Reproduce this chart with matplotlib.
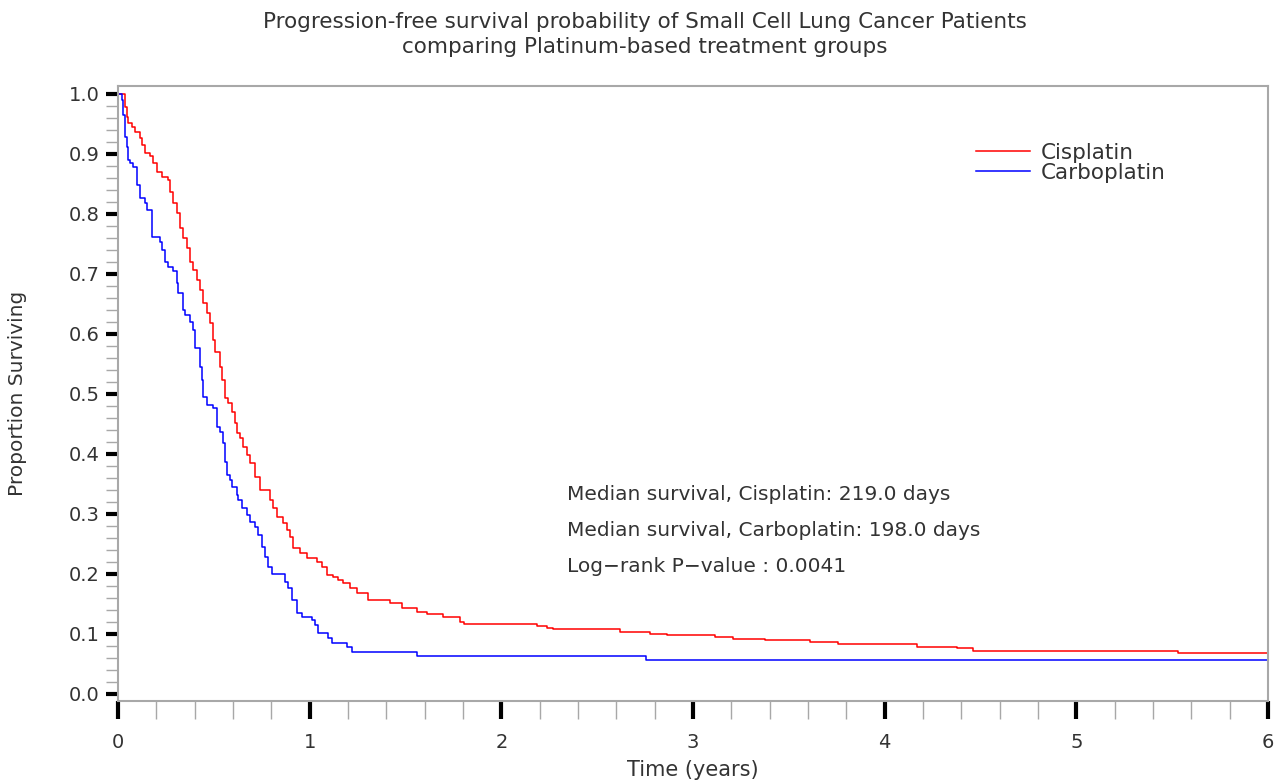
import numpy as np
import matplotlib.pyplot as plt
from matplotlib.ticker import MultipleLocator

# Kaplan-Meier step points (time in years, survival after step)
cis_t = [0, 0.037, 0.047, 0.052, 0.073, 0.089, 0.115, 0.125, 0.141, 0.167, 0.183, 0.203,
         0.230, 0.261, 0.271, 0.287, 0.308, 0.323, 0.339, 0.360, 0.376, 0.391, 0.412,
         0.428, 0.443, 0.464, 0.480, 0.496, 0.506, 0.532, 0.543, 0.558, 0.574, 0.595,
         0.610, 0.621, 0.637, 0.652, 0.673, 0.689, 0.715, 0.741, 0.793, 0.809, 0.830,
         0.861, 0.882, 0.897, 0.913, 0.950, 0.986, 1.038, 1.064, 1.090, 1.122, 1.148,
         1.174, 1.210, 1.247, 1.304, 1.419, 1.482, 1.560, 1.612, 1.696, 1.784, 1.805,
         2.186, 2.238, 2.270, 2.619, 2.776, 2.864, 3.115, 3.209, 3.376, 3.610, 3.756,
         4.169, 4.377, 4.461, 5.530, 6.0]
cis_s = [1.0, 0.978, 0.962, 0.952, 0.945, 0.937, 0.927, 0.915, 0.902, 0.897, 0.885, 0.870,
         0.862, 0.857, 0.837, 0.818, 0.802, 0.777, 0.760, 0.743, 0.720, 0.707, 0.690,
         0.673, 0.652, 0.635, 0.618, 0.590, 0.570, 0.545, 0.523, 0.493, 0.485, 0.470,
         0.452, 0.435, 0.427, 0.412, 0.398, 0.385, 0.362, 0.340, 0.323, 0.310, 0.295,
         0.285, 0.273, 0.262, 0.243, 0.235, 0.227, 0.220, 0.212, 0.198, 0.195, 0.190,
         0.185, 0.177, 0.168, 0.157, 0.152, 0.143, 0.137, 0.133, 0.128, 0.120, 0.117,
         0.113, 0.110, 0.108, 0.103, 0.100, 0.098, 0.095, 0.092, 0.090, 0.087, 0.084,
         0.079, 0.077, 0.072, 0.068, 0.068]

carb_t = [0, 0.021, 0.026, 0.037, 0.047, 0.052, 0.063, 0.078, 0.099, 0.115, 0.141, 0.151,
          0.177, 0.219, 0.230, 0.245, 0.261, 0.287, 0.308, 0.313, 0.339, 0.350, 0.376,
          0.391, 0.402, 0.428, 0.438, 0.443, 0.464, 0.496, 0.517, 0.532, 0.548, 0.558,
          0.569, 0.584, 0.595, 0.621, 0.626, 0.647, 0.673, 0.689, 0.715, 0.730, 0.751,
          0.767, 0.783, 0.803, 0.871, 0.887, 0.908, 0.934, 0.960, 1.012, 1.028, 1.043,
          1.096, 1.117, 1.195, 1.221, 1.560, 2.755, 6.0]
carb_s = [1.0, 0.990, 0.965, 0.928, 0.912, 0.890, 0.885, 0.878, 0.848, 0.827, 0.818, 0.807,
          0.762, 0.753, 0.740, 0.720, 0.712, 0.705, 0.685, 0.668, 0.640, 0.632, 0.620,
          0.607, 0.577, 0.545, 0.523, 0.495, 0.482, 0.477, 0.445, 0.437, 0.418, 0.387,
          0.365, 0.357, 0.345, 0.332, 0.323, 0.310, 0.298, 0.287, 0.278, 0.265, 0.245,
          0.228, 0.212, 0.200, 0.187, 0.177, 0.157, 0.135, 0.128, 0.123, 0.115, 0.102,
          0.093, 0.085, 0.078, 0.070, 0.064, 0.056, 0.056]

notes = ["Median survival, Cisplatin: 219.0 days",
         "Median survival, Carboplatin: 198.0 days",
         "Log\u2212rank P\u2212value : 0.0041"]

txt = '#333333'
frame = '#a8a8a8'

fig = plt.figure(figsize=(12.74, 7.82), dpi=100)
ax = fig.add_axes([118/1274, 1-701/782, 1150/1274, 615/782])

ax.step(cis_t, cis_s, where='post', color='#ff0000', lw=1.1, label='Cisplatin')
ax.step(carb_t, carb_s, where='post', color='#0000ff', lw=1.1, label='Carboplatin')

ax.set_xlim(0, 6)
ax.set_ylim(-0.0117, 1.0133)

for sp in ax.spines.values():
    sp.set_color(frame)
    sp.set_linewidth(1.5)

ax.xaxis.set_major_locator(MultipleLocator(1))
ax.xaxis.set_minor_locator(MultipleLocator(0.2))
ax.yaxis.set_major_locator(MultipleLocator(0.1))
ax.yaxis.set_minor_locator(MultipleLocator(0.02))
ax.yaxis.set_major_formatter(plt.FormatStrFormatter('%.1f'))

ax.tick_params(axis='x', which='major', direction='out', length=13, width=3,
               color='black', labelsize=14, labelcolor=txt, pad=10)
ax.tick_params(axis='x', which='minor', direction='out', length=13, width=1,
               color=frame)
ax.tick_params(axis='y', which='major', direction='out', length=9, width=3,
               color='black', labelsize=14, labelcolor=txt, pad=4)
ax.tick_params(axis='y', which='minor', direction='out', length=9, width=1,
               color=frame)

ax.set_xlabel('Time (years)', fontsize=15, color=txt, labelpad=6)
ax.set_ylabel('Proportion Surviving', fontsize=14.5, color=txt, labelpad=30)

fig.text(645/1274, 1-22/782, 'Progression-free survival probability of Small Cell Lung Cancer Patients',
         ha='center', va='center', fontsize=15.5, color=txt)
fig.text(645/1274, 1-47/782, 'comparing Platinum-based treatment groups',
         ha='center', va='center', fontsize=15.5, color=txt)

for i, n in enumerate(notes):
    ax.text(2.345, 0.333 - i*0.06, n, fontsize=14.5, color=txt, va='center', ha='left')

leg = ax.legend(loc='upper left', bbox_to_anchor=(0.737, 0.925), frameon=False,
                fontsize=15.5, handlelength=2.5, handletextpad=0.5, labelspacing=0.0,
                borderpad=0)
for t in leg.get_texts():
    t.set_color(txt)

fig.savefig('out.png', dpi=100)
